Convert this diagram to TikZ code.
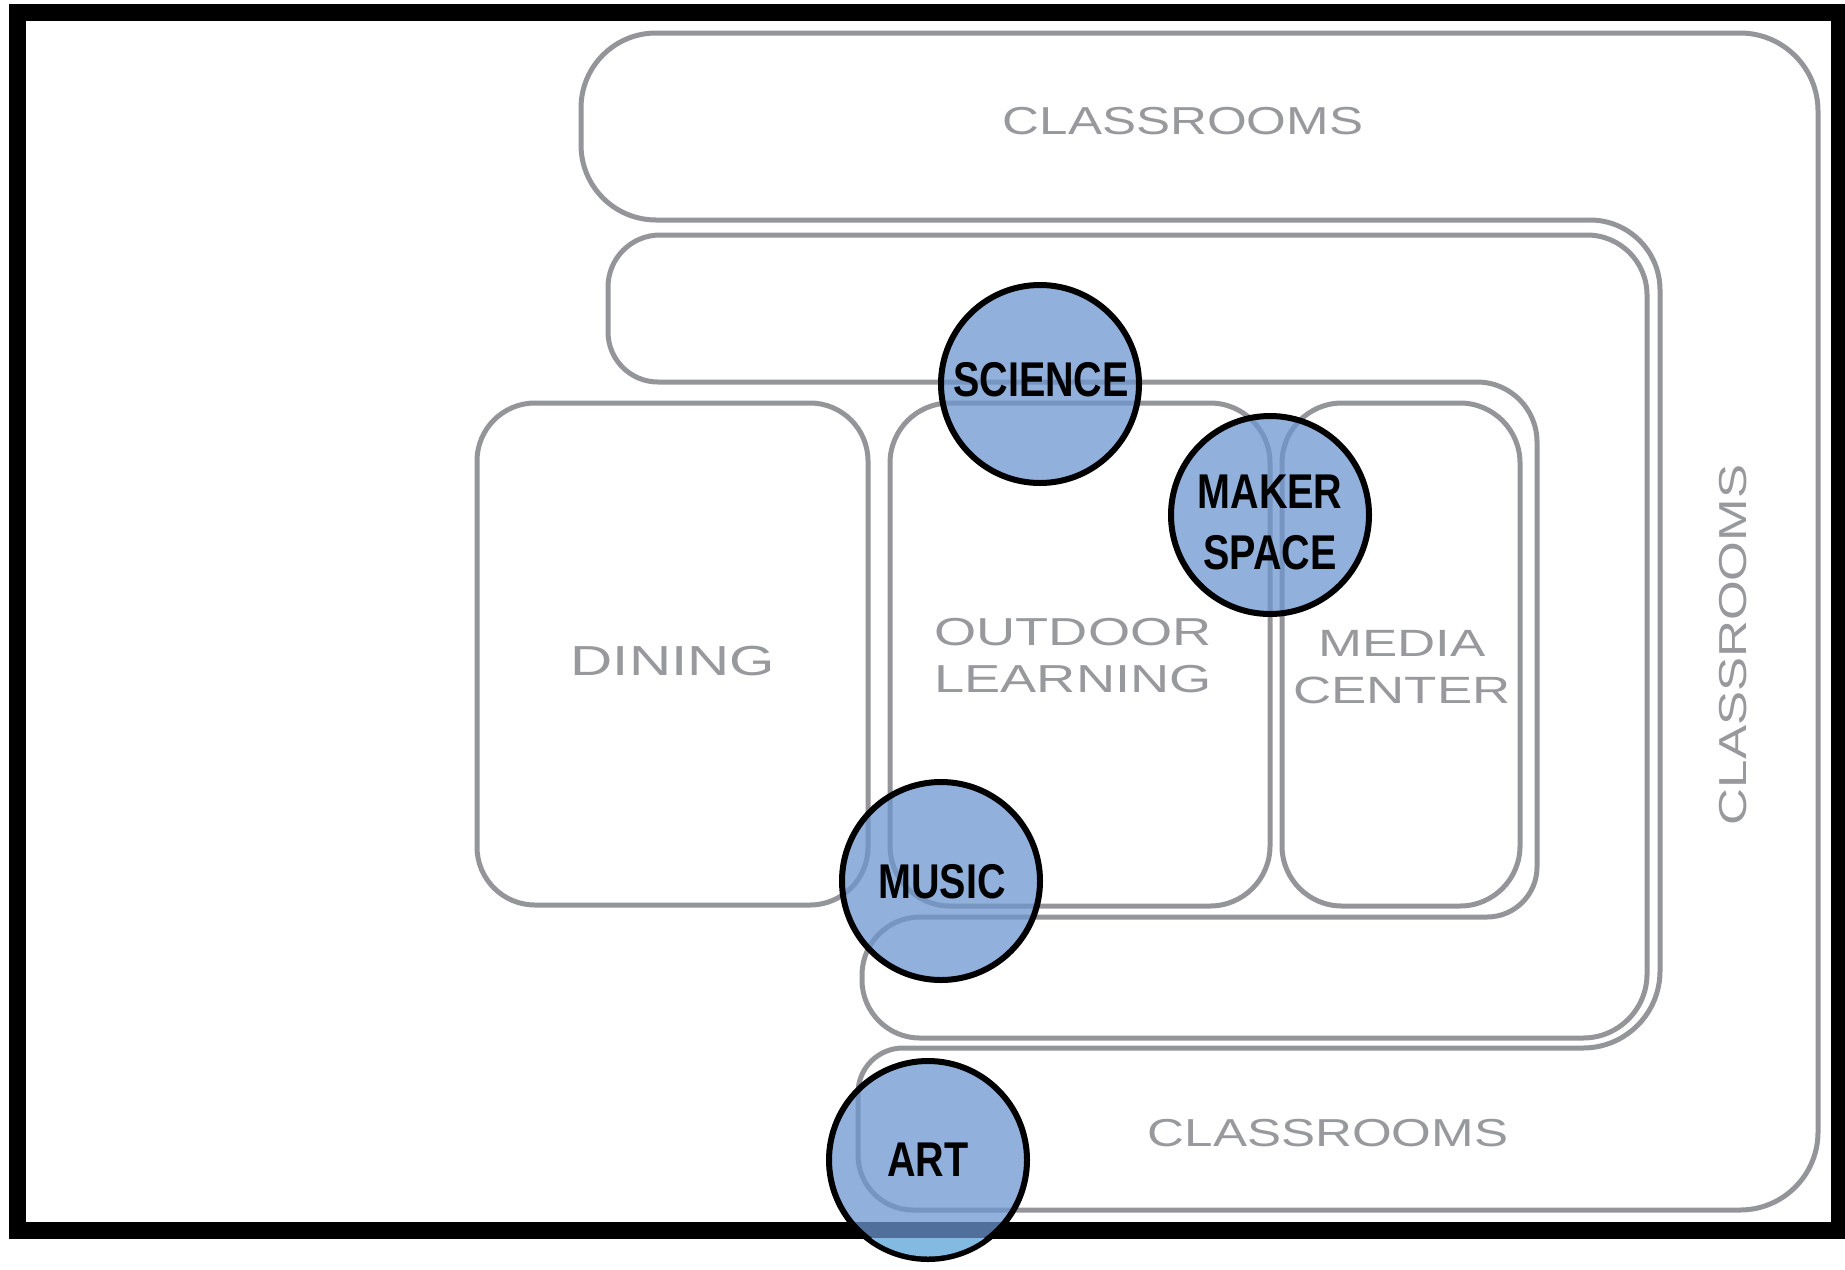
\documentclass[tikz,border=0pt]{standalone}
\usepackage{fontspec}
\newfontfamily\roomfont[FakeStretch=1.39]{Liberation Sans}
\newfontfamily\classfont[FakeStretch=1.31]{Liberation Sans}
\newfontfamily\circfont[FakeStretch=0.81]{Liberation Sans}
\definecolor{wallgray}{RGB}{148,149,152}
\definecolor{txtgray}{RGB}{152,153,156}
\definecolor{circblue}{RGB}{108,150,208}
\definecolor{artlow}{RGB}{130,186,226}
\tikzset{
  wall/.style={draw=wallgray, line width=2.5pt},
  frameline/.style={draw=black, line width=8.5pt},
  zone/.style={circle, minimum size=99pt, inner sep=0pt, outer sep=0pt,
    draw=black, line width=3pt, fill=circblue, fill opacity=0.75,
    draw opacity=1, text opacity=1},
  zonetxt/.style={text=black, inner sep=0pt, align=center,
    font=\circfont\bfseries\fontsize{24.4pt}{30.5pt}\selectfont},
  roomtxt/.style={text=txtgray, inner sep=0pt, align=center,
    font=\roomfont\fontsize{19.5pt}{23.5pt}\selectfont},
  classtxt/.style={text=txtgray, inner sep=0pt,
    font=\classfont\fontsize{19.5pt}{23.5pt}\selectfont},
}
\begin{document}
\begin{tikzpicture}[x=0.5pt, y=-0.5pt]
\useasboundingbox (0,0) rectangle (1845,1269);
% outer black frame
\draw[frameline] (17,12) rectangle (1839,1230);

% classrooms band (top, right, bottom)
\draw[wall] (656,33) -- (1740,33)
  arc[start angle=270, end angle=360, radius=78] -- (1818,1132)
  arc[start angle=0, end angle=90, radius=78] -- (913,1210)
  arc[start angle=90, end angle=180, radius=55] -- (858,1093)
  arc[start angle=180, end angle=270, radius=45] -- (1583,1048)
  arc[start angle=90, end angle=0, radius=77] -- (1660,290)
  arc[start angle=0, end angle=-90, radius=70] -- (656,220)
  arc[start angle=90, end angle=180, radius=75] -- (581,108)
  arc[start angle=180, end angle=270, radius=75] -- cycle;

% corridor band
\draw[wall] (660,235) -- (1587,235)
  arc[start angle=270, end angle=360, radius=60] -- (1647,974)
  arc[start angle=0, end angle=90, radius=64] -- (920,1038)
  arc[start angle=90, end angle=180, radius=58] -- (862,975)
  arc[start angle=180, end angle=270, radius=58] -- (1487,917)
  arc[start angle=90, end angle=0, radius=50] -- (1537,442)
  arc[start angle=0, end angle=-90, radius=60] -- (658,382)
  arc[start angle=90, end angle=180, radius=50] -- (608,287)
  arc[start angle=180, end angle=270, radius=52] -- cycle;

% rooms
\draw[wall, rounded corners=29pt] (477,403) rectangle (868,905);
\draw[wall, rounded corners=30pt] (890,403) rectangle (1270,906);
\draw[wall, rounded corners=30pt] (1282,403) rectangle (1520,906);

% room labels
\node[classtxt] (clTop) at (1183,121) {CLASSROOMS};
\node[classtxt, rotate=90] (clRight) at (1733,645) {CLASSROOMS};
\node[classtxt] (clBottom) at (1328,1133) {CLASSROOMS};
\node[roomtxt, font=\roomfont\fontsize{21pt}{25pt}\selectfont] (dining) at (673,661) {DINING};
\node[roomtxt] (outdoor) at (1073,656) {OUTDOOR\\LEARNING};
\node[roomtxt, font=\roomfont\fontsize{19pt}{23.5pt}\selectfont] (media) at (1402,667) {MEDIA\\CENTER};

% program circles
\node[zone] (science) at (1040,384) {};
\node[zone] (maker) at (1270,515) {};
\node[zone] (music) at (941,881) {};
\node[zone] (art) at (928,1160) {};
\begin{scope}
  \clip (art.center) circle[radius=96.5];
  \fill[artlow] (800,1238) rectangle (1060,1269);
\end{scope}

\node[zonetxt] (scienceLbl) at (1041,380) {SCIENCE};
\node[zonetxt] (makerLbl) at (1270,522) {MAKER\\SPACE};
\node[zonetxt] (musicLbl) at (942,882) {MUSIC};
\node[zonetxt] (artLbl) at (928,1160) {ART};
\end{tikzpicture}
\end{document}
